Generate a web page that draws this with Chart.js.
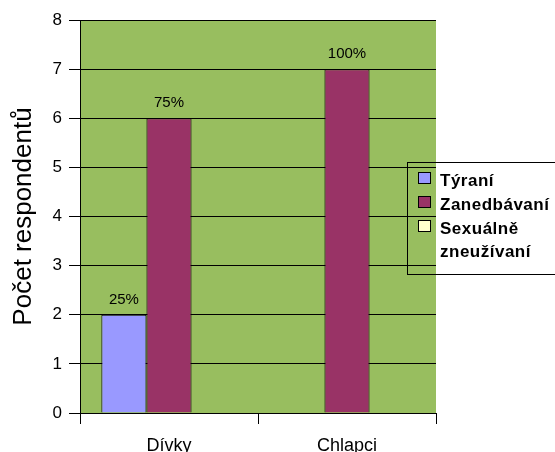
<!DOCTYPE html>
<html>
<head>
<meta charset="utf-8">
<script src="https://cdn.jsdelivr.net/npm/chart.js@4.4.0/dist/chart.umd.min.js"></script>
<style>
  html, body { margin: 0; padding: 0; background: #fff; }
  #wrap { position: relative; width: 555px; height: 452px; }
</style>
</head>
<body>
<div id="wrap"><canvas id="graf" width="555" height="452"></canvas></div>
<script>
// kategorie a hodnoty
const skupiny = ['Dívky', 'Chlapci'];
const tyrani = [2, 0];
const zanedbavani = [6, 7];
const sexualne = [0, 0];
const popisTyrani = ['25%', ''];
const popisZanedbavani = ['75%', '100%'];
const popisSexualne = ['', ''];
const nazvyLegendy = [['Týraní'], ['Zanedbávaní'], ['Sexuálně', 'zneužívaní']];
const pismo = '"Liberation Sans", Arial, sans-serif';

const pozadi = {
  id: 'pozadi',
  beforeDraw(chart) {
    const a = chart.chartArea;
    const ctx = chart.ctx;
    ctx.save();
    ctx.fillStyle = '#98BE5F';
    ctx.fillRect(a.left, a.top, a.right - a.left, a.bottom - a.top);
    ctx.restore();
  }
};

const popisky = {
  id: 'popisky',
  afterDatasetsDraw(chart) {
    const ctx = chart.ctx;
    ctx.save();
    ctx.font = '15px ' + pismo;
    ctx.fillStyle = '#000';
    ctx.textAlign = 'center';
    ctx.textBaseline = 'alphabetic';
    chart.data.datasets.forEach(function (ds, i) {
      const meta = chart.getDatasetMeta(i);
      meta.data.forEach(function (bar, j) {
        const t = ds.popisky[j];
        if (t) ctx.fillText(t, bar.x, bar.y - 11);
      });
    });
    ctx.restore();
  }
};

const legenda = {
  id: 'legenda',
  afterDraw(chart) {
    const ctx = chart.ctx;
    ctx.save();
    ctx.strokeStyle = '#000';
    ctx.lineWidth = 1;
    ctx.strokeRect(407.5, 162.5, 160, 112);
    ctx.font = 'bold 17px ' + pismo;
    ctx.letterSpacing = '0.5px';
    ctx.fillStyle = '#000';
    ctx.textBaseline = 'middle';
    ctx.textAlign = 'left';
    let y = 178;
    chart.data.datasets.forEach(function (ds, i) {
      ctx.fillStyle = ds.backgroundColor;
      ctx.fillRect(418.5, y - 5.5, 12, 11);
      ctx.strokeRect(418.5, y - 5.5, 12, 11);
      ctx.fillStyle = '#000';
      nazvyLegendy[i].forEach(function (r, k) {
        ctx.fillText(r, 440, y + 3 + k * 23);
      });
      y += 23 * nazvyLegendy[i].length + 1;
    });
    ctx.restore();
  }
};

new Chart(document.getElementById('graf'), {
  type: 'bar',
  data: {
    labels: skupiny,
    datasets: [
      { label: 'Týraní', data: tyrani, popisky: popisTyrani, backgroundColor: '#9999FF' },
      { label: 'Zanedbávaní', data: zanedbavani, popisky: popisZanedbavani, backgroundColor: '#993366' },
      { label: 'Sexuálně zneužívaní', data: sexualne, popisky: popisSexualne, backgroundColor: '#FFFFCC' }
    ]
  },
  options: {
    responsive: false,
    animation: false,
    layout: { padding: { top: 20, right: 119, left: 0, bottom: 0 } },
    datasets: {
      bar: { categoryPercentage: 0.76, barPercentage: 1, borderColor: '#000', borderWidth: 1 }
    },
    plugins: {
      legend: { display: false },
      tooltip: { enabled: false }
    },
    scales: {
      x: {
        afterFit(s) { s.height = 39; },
        grid: { drawOnChartArea: false, drawTicks: true, tickLength: 11, color: '#000', offset: true },
        border: { color: '#000' },
        ticks: { color: '#000', padding: 11, font: { family: pismo, size: 18 } }
      },
      y: {
        min: 0,
        max: 8,
        afterFit(s) { s.width = 80; },
        grid: { color: '#000', tickLength: 11 },
        border: { color: '#000' },
        ticks: { stepSize: 1, color: '#000', padding: 7, font: { family: pismo, size: 17 } },
        title: {
          display: true,
          text: 'Počet respondentů',
          color: '#000',
          font: { family: pismo, size: 26 },
          padding: { top: 8, bottom: 0 }
        }
      }
    }
  },
  plugins: [pozadi, popisky, legenda]
});
</script>
</body>
</html>
